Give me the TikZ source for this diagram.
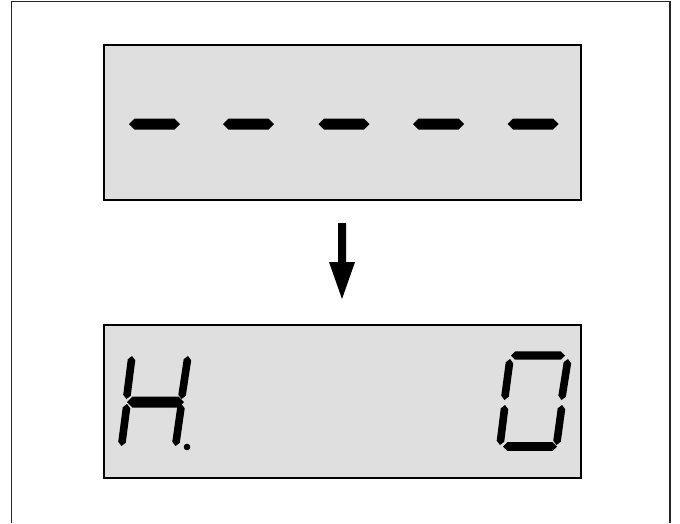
\documentclass[tikz,border=0pt]{standalone}
\usetikzlibrary{calc}
\definecolor{lcdgray}{HTML}{DFDFDF}
\newcommand{\lcdseg}[5]{%
  \pgfmathsetmacro{\segL}{veclen((#3)-(#1),(#4)-(#2))}%
  \pgfmathsetmacro{\segA}{atan2(-((#4)-(#2)),(#3)-(#1))}%
  \fill[black,shift={({#1},{#2})},rotate=\segA] (0,0) -- (#5,#5) -- ({\segL-#5},#5) -- (\segL,0) -- ({\segL-#5},-#5) -- (#5,-#5) -- cycle;}
\tikzset{
  frameline/.style={line width=1.3pt,draw=black!85},
  lcdbox/.style={draw=black,line width=2pt,fill=lcdgray,inner sep=0pt},
}
\begin{document}
\begin{tikzpicture}[x=1pt,y=-1pt]
\useasboundingbox (0,0) rectangle (680,523);
% outer frame (open at bottom)
\draw[frameline] (11.5,523) -- (11.5,1.5) -- (670,1.5) -- (670,523);
% displays
\node[lcdbox,minimum width=477pt,minimum height=155pt,anchor=north west] (top) at (103,44) {};
\node[lcdbox,minimum width=477pt,minimum height=153pt,anchor=north west] (bot) at (103,324) {};
% dashes
\foreach \cx in {154.5,248.5,344,438.5,533}{
  \lcdseg{\cx-25.5}{124}{\cx+25.5}{124}{5.5}
}
% arrow
\coordinate (atop) at (342,223);
\coordinate (atip) at (342,299);
\fill[black] ($(atop)+(-4,0)$) -- ($(atop)+(4,0)$) -- (346,262) -- (355,262) -- (atip) -- (329,262) -- (338,262) -- cycle;
% H
\lcdseg{132}{356}{126.5}{399}{3.8}
\lcdseg{127}{404}{121.5}{446}{3.8}
\lcdseg{188}{356}{181.5}{399}{3.8}
\lcdseg{181.5}{404}{175.5}{446}{3.8}
\lcdseg{127}{402}{184}{402}{5.5}
\fill[black] (187,447) circle (3.3);
% 0
\lcdseg{511}{355.5}{565}{355.5}{4.2}
\lcdseg{510}{359}{504.5}{400}{3.8}
\lcdseg{568}{359}{561.5}{400}{3.8}
\lcdseg{505}{405}{500}{445}{3.8}
\lcdseg{562}{405}{556.5}{445}{3.8}
\lcdseg{503}{446.5}{557}{446.5}{4.3}
\end{tikzpicture}
\end{document}
